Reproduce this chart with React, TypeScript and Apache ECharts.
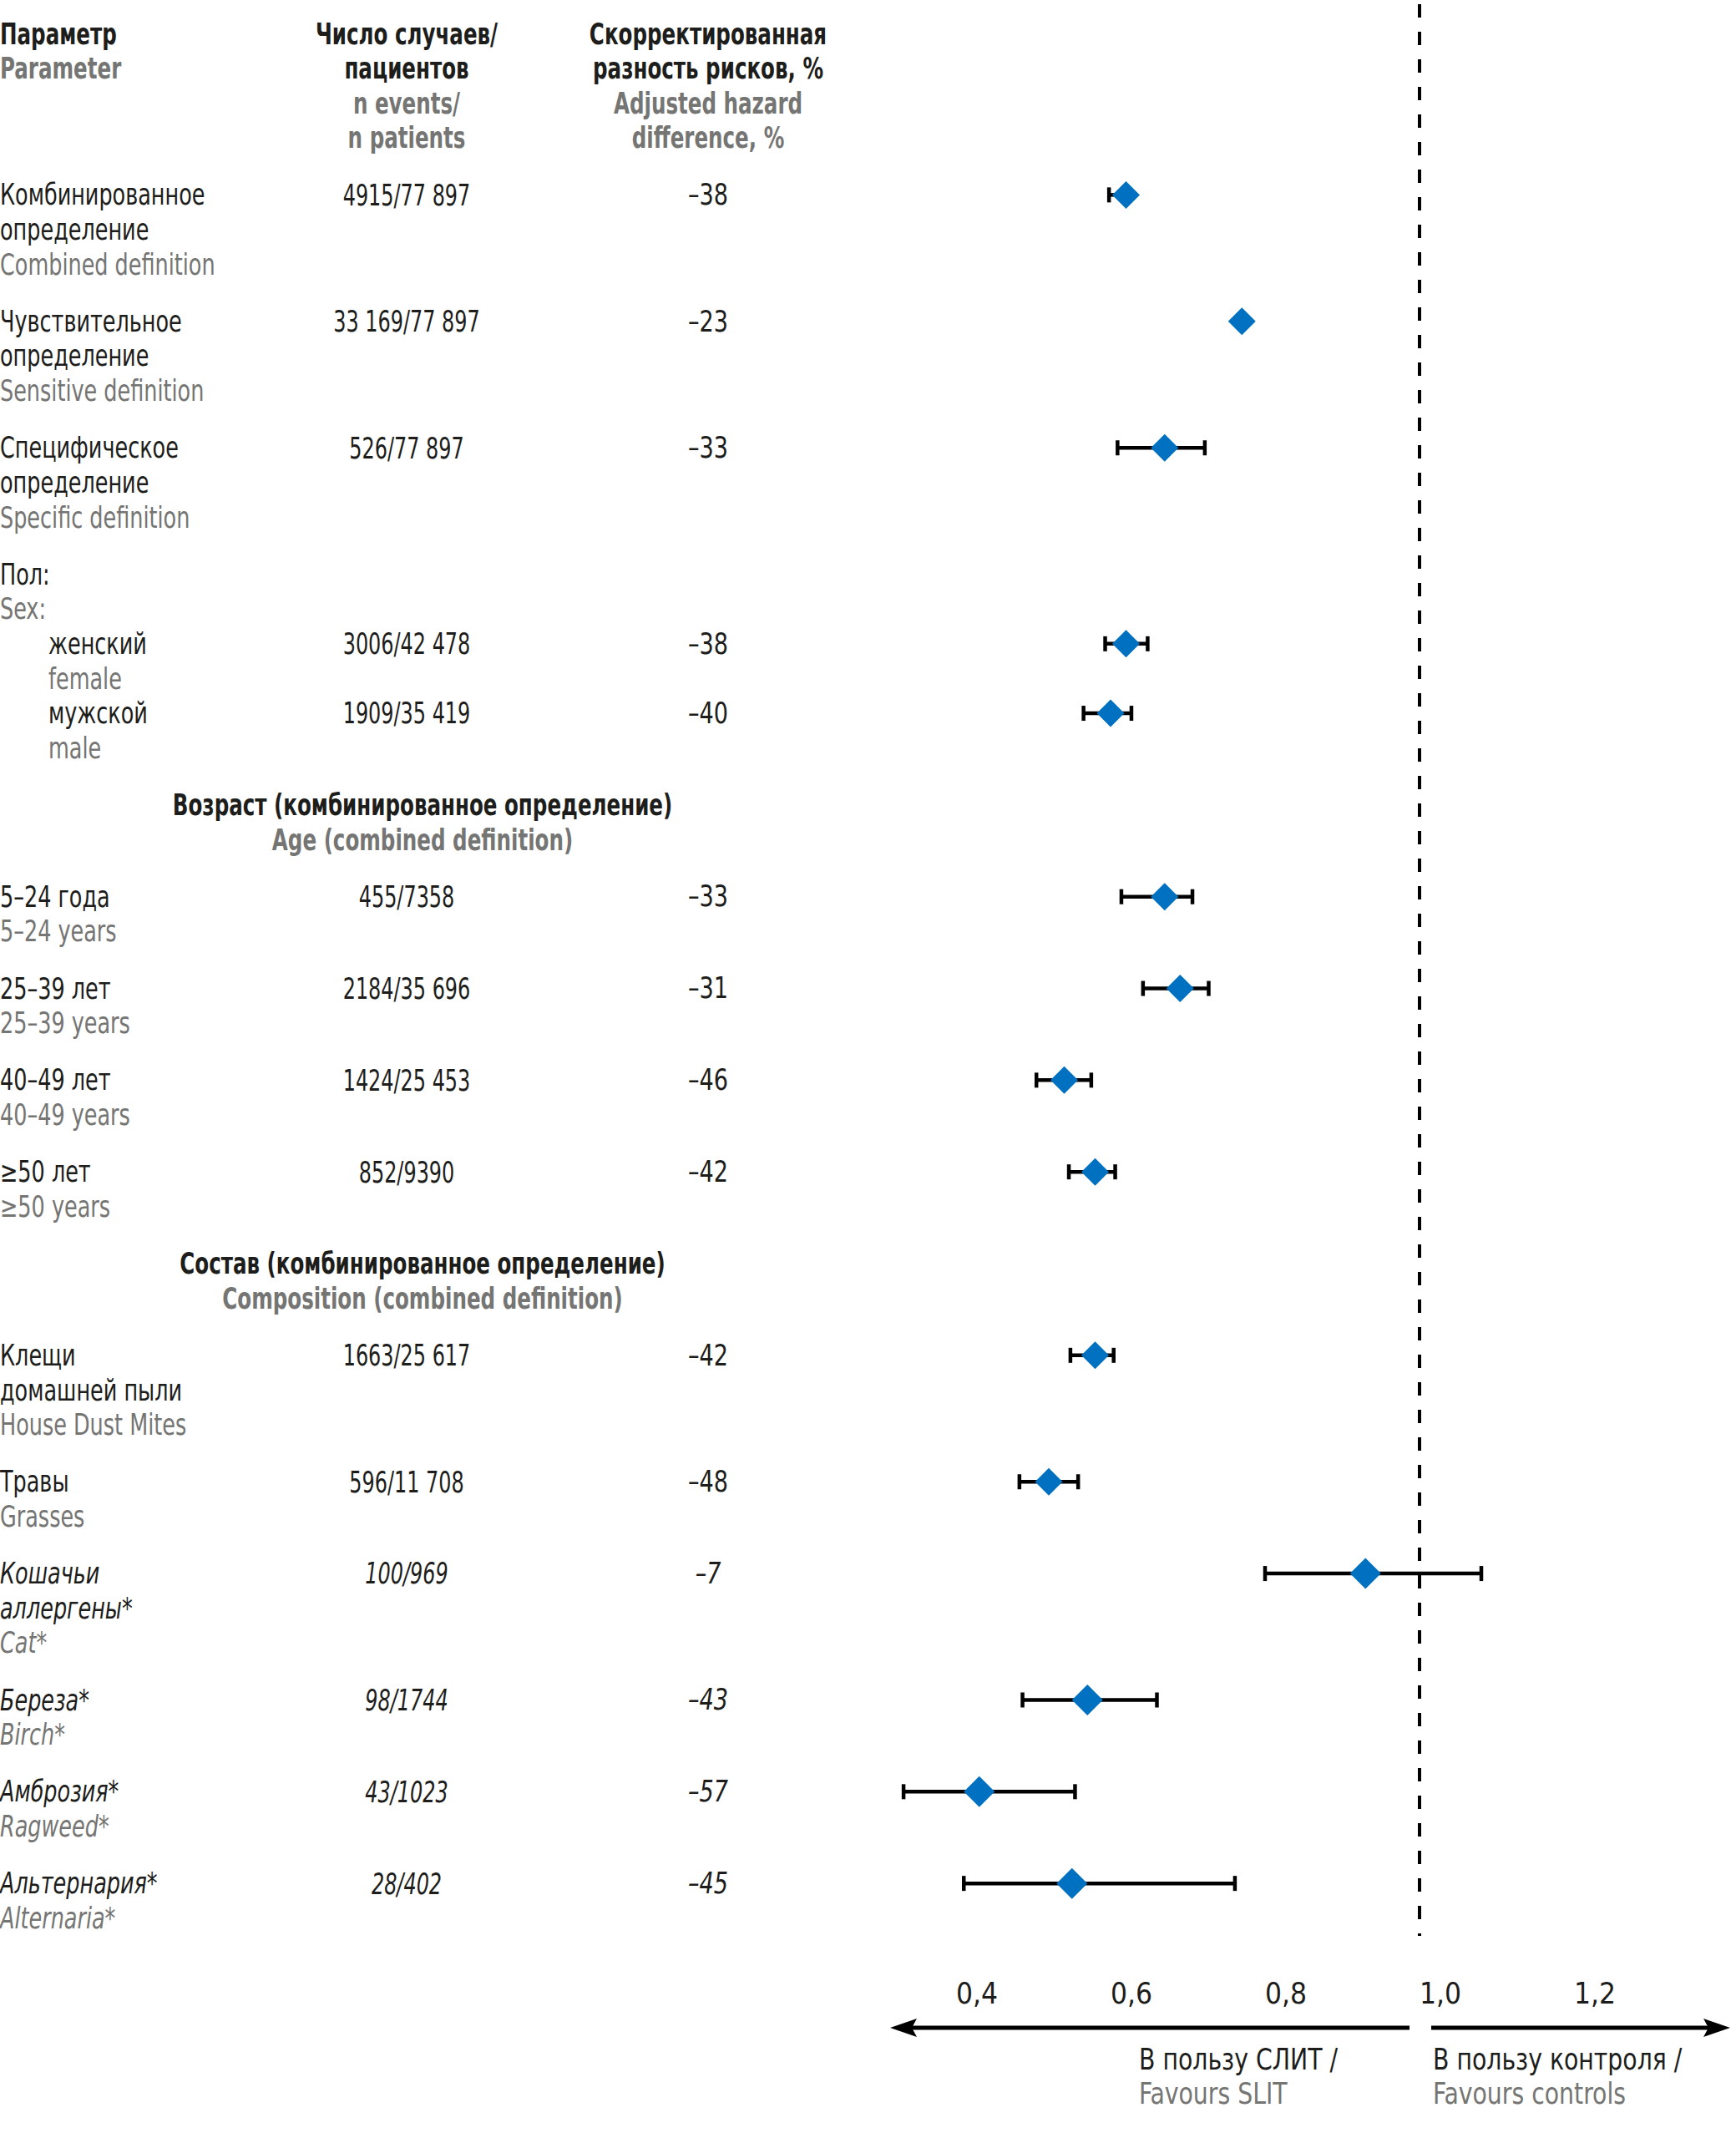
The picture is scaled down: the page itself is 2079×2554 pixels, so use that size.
import React, { useEffect, useRef } from "react";
import * as echarts from "echarts";

// ---------- DATA ----------
const headerRu = ["Параметр", "Число случаев/\nпациентов", "Скорректированная\nразность рисков, %"];
const headerEn = ["Parameter", "n events/\nn patients", "Adjusted hazard\ndifference, %"];

const categoriesRu = [
  "Комбинированное\nопределение",
  "Чувствительное\nопределение",
  "Специфическое\nопределение",
  "женский",
  "мужской",
  "5–24 года",
  "25–39 лет",
  "40–49 лет",
  "≥50 лет",
  "Клещи\nдомашней пыли",
  "Травы",
  "Кошачьи\nаллергены*",
  "Береза*",
  "Амброзия*",
  "Альтернария*",
];
const categoriesEn = [
  "Combined definition",
  "Sensitive definition",
  "Specific definition",
  "female",
  "male",
  "5–24 years",
  "25–39 years",
  "40–49 years",
  "≥50 years",
  "House Dust Mites",
  "Grasses",
  "Cat*",
  "Birch*",
  "Ragweed*",
  "Alternaria*",
];
const eventsPatients = [
  "4915/77 897", "33 169/77 897", "526/77 897", "3006/42 478", "1909/35 419",
  "455/7358", "2184/35 696", "1424/25 453", "852/9390", "1663/25 617",
  "596/11 708", "100/969", "98/1744", "43/1023", "28/402",
];
const hazardDifference = [
  "–38", "–23", "–33", "–38", "–40", "–33", "–31", "–46", "–42", "–42", "–48", "–7", "–43", "–57", "–45",
];
const hazardRatio = [0.62, 0.77, 0.67, 0.62, 0.60, 0.67, 0.69, 0.54, 0.58, 0.58, 0.52, 0.93, 0.57, 0.43, 0.55];
const ciLower = [0.598, 0.765, 0.609, 0.593, 0.565, 0.614, 0.642, 0.504, 0.546, 0.548, 0.482, 0.80, 0.486, 0.332, 0.41];
const ciUpper = [0.625, 0.775, 0.722, 0.648, 0.627, 0.706, 0.727, 0.575, 0.606, 0.604, 0.558, 1.08, 0.66, 0.554, 0.761];
const italicRows = [false, false, false, false, false, false, false, false, false, false, false, true, true, true, true];
const subgroupRows = [3, 4];
const sectionTitles = [
  { beforeRow: 3, ru: "Пол:", en: "Sex:", centered: false },
  { beforeRow: 5, ru: "Возраст (комбинированное определение)", en: "Age (combined definition)", centered: true },
  { beforeRow: 9, ru: "Состав (комбинированное определение)", en: "Composition (combined definition)", centered: true },
];
const xTicks = [0.4, 0.6, 0.8, 1.0, 1.2];
const favours = { left: ["В пользу СЛИТ /", "Favours SLIT"], right: ["В пользу контроля /", "Favours controls"] };

// ---------- STYLE / LAYOUT ----------
const FONT = "'Liberation Sans Narrow', 'DejaVu Sans Condensed', 'Arial Narrow', sans-serif";
const FS = 35;
const BLACK = "#1d1d1b";
const GRAY = "#757574";
const BLUE = "#0070c0";
const LINE_PX = 41.6;
const GAP = 0.64;
const Y_MIN = -0.85;
const Y_MAX = 54.75;
const TOP = 5;
const COL1 = 0;
const COL1_INDENT = 58;
const COL2 = 487;
const COL3 = 848;
const SECTION_CENTER = 506;
const SCALE_TEXT = 0.81;
const SCALE_BOLD = 0.78;
const SCALE_EVENTS = 0.76;
const SCALE_DIFF = 0.86;

type TLine = { x: number; y: number; text: string; bold: boolean; gray: boolean; italic: boolean; align: string; sx: number };

function buildLayout() {
  const lines: TLine[] = [];
  const push = (x: number, y: number, text: string, bold: boolean, gray: boolean, italic: boolean, align: string, sx?: number) =>
    lines.push({ x, y, text, bold, gray, italic, align, sx: sx ?? (bold ? SCALE_BOLD : SCALE_TEXT) });
  const hx = [COL1, COL2, COL3];
  const ha = ["left", "center", "center"];
  let headerLines = 0;
  headerRu.forEach((t, c) => {
    const ru = t.split("\n");
    const en = headerEn[c].split("\n");
    ru.forEach((s, k) => push(hx[c], k, s, true, false, false, ha[c]));
    en.forEach((s, k) => push(hx[c], ru.length + k, s, true, true, false, ha[c]));
    headerLines = Math.max(headerLines, ru.length + en.length);
  });
  let cursor = headerLines + GAP;
  const rowY: number[] = [];
  categoriesRu.forEach((ruText, i) => {
    const sec = sectionTitles.find((s) => s.beforeRow === i);
    if (sec) {
      const sx = sec.centered ? SECTION_CENTER : COL1;
      const sa = sec.centered ? "center" : "left";
      push(sx, cursor, sec.ru, sec.centered, false, false, sa);
      push(sx, cursor + 1, sec.en, sec.centered, true, false, sa);
      cursor += 2 + (sec.centered ? GAP : 0);
    }
    const it = italicRows[i];
    const x1 = subgroupRows.includes(i) ? COL1_INDENT : COL1;
    rowY.push(cursor);
    const ru = ruText.split("\n");
    ru.forEach((s, k) => push(x1, cursor + k, s, false, false, it, "left"));
    push(x1, cursor + ru.length, categoriesEn[i], false, true, it, "left");
    push(COL2, cursor, eventsPatients[i], false, false, it, "center", SCALE_EVENTS);
    push(COL3, cursor, hazardDifference[i], false, false, it, "center", SCALE_DIFF);
    cursor += ru.length + 1;
    if (!(subgroupRows.includes(i) && subgroupRows.includes(i + 1))) cursor += GAP;
  });
  return { lines, rowY };
}

export default function App() {
  const ref = useRef<HTMLDivElement>(null);
  useEffect(() => {
    document.body.style.margin = "0";
    if (!ref.current) return;
    const chart = echarts.init(ref.current, undefined, { renderer: "svg" });
    const { lines, rowY } = buildLayout();
    const gridHeight = (Y_MAX - Y_MIN) * LINE_PX;
    const yAxisBase = { type: "value", min: Y_MIN, max: Y_MAX, inverse: true, show: false };

    const arrowY = 2428;
    const arrowStyle = { stroke: "#000", lineWidth: 5 };
    const textBase = (text: string, x: number, y: number, gray: boolean) => ({
      type: "text",
      x,
      y,
      scaleX: 0.9,
      style: {
        text,
        fill: gray ? GRAY : BLACK,
        fontSize: FS,
        fontFamily: FONT,
        align: "left",
        verticalAlign: "middle",
      },
    });

    chart.setOption({
      animation: false,
      backgroundColor: "#fff",
      grid: [
        { left: 960, width: 1110, top: TOP, height: gridHeight },
        { left: 0, width: 1000, top: TOP, height: gridHeight },
      ],
      xAxis: [
        {
          type: "value",
          gridIndex: 0,
          min: 0.2,
          max: 1.4,
          interval: 0.2,
          axisLine: { show: false },
          axisTick: { show: false },
          splitLine: { show: false },
          axisLabel: {
            margin: 52,
            fontSize: FS,
            fontFamily: FONT,
            color: BLACK,
            padding: [0, 0, 0, 50],
            formatter: (v: number) =>
              xTicks.some((t) => Math.abs(t - v) < 1e-6) ? v.toFixed(1).replace(".", ",") : "",
          },
        },
        { type: "value", gridIndex: 1, min: 0, max: 1000, show: false },
      ],
      yAxis: [
        { ...yAxisBase, gridIndex: 0 },
        { ...yAxisBase, gridIndex: 1 },
      ],
      series: [
        {
          type: "custom",
          name: "ci",
          xAxisIndex: 0,
          yAxisIndex: 0,
          z: 2,
          silent: true,
          data: rowY.map((y, i) => [ciLower[i], ciUpper[i], y]),
          encode: { x: [0, 1], y: 2 },
          renderItem: (params: any, api: any) => {
            const a = api.coord([api.value(0), api.value(2)]);
            const b = api.coord([api.value(1), api.value(2)]);
            const st = { stroke: "#000", lineWidth: 4.5 };
            const cap = 9;
            return {
              type: "group",
              children: [
                { type: "line", shape: { x1: a[0], y1: a[1], x2: b[0], y2: b[1] }, style: st },
                { type: "line", shape: { x1: a[0], y1: a[1] - cap, x2: a[0], y2: a[1] + cap }, style: st },
                { type: "line", shape: { x1: b[0], y1: b[1] - cap, x2: b[0], y2: b[1] + cap }, style: st },
              ],
            };
          },
        },
        {
          type: "scatter",
          name: "hr",
          xAxisIndex: 0,
          yAxisIndex: 0,
          z: 3,
          symbol: "diamond",
          symbolSize: (_v: any, p: any) => (italicRows[p.dataIndex] ? 37 : 33),
          itemStyle: { color: BLUE, opacity: 1 },
          data: rowY.map((y, i) => [hazardRatio[i], y]),
          markLine: {
            silent: true,
            symbol: "none",
            label: { show: false },
            lineStyle: { color: "#000", width: 4, type: [16, 17] },
            data: [{ xAxis: 1 }],
          },
        },
        {
          type: "custom",
          name: "table",
          xAxisIndex: 1,
          yAxisIndex: 1,
          silent: true,
          data: lines.map((l) => [l.x, l.y]),
          renderItem: (params: any, api: any) => {
            const l = lines[params.dataIndex];
            const p = api.coord([api.value(0), api.value(1)]);
            return {
              type: "text",
              x: p[0],
              y: p[1],
              scaleX: l.sx,
              style: {
                text: l.text,
                fill: l.gray ? GRAY : BLACK,
                fontSize: FS,
                fontFamily: FONT,
                fontWeight: l.bold ? "bold" : "normal",
                fontStyle: l.italic ? "italic" : "normal",
                align: l.align,
                verticalAlign: "middle",
              },
            };
          },
        },
      ],
      graphic: [
        { type: "line", shape: { x1: 1092, y1: arrowY, x2: 1688, y2: arrowY }, style: arrowStyle },
        {
          type: "polygon",
          shape: { points: [[1066, arrowY], [1098, arrowY - 11], [1092, arrowY], [1098, arrowY + 11]] },
          style: { fill: "#000" },
        },
        { type: "line", shape: { x1: 1714, y1: arrowY, x2: 2046, y2: arrowY }, style: arrowStyle },
        {
          type: "polygon",
          shape: { points: [[2072, arrowY], [2040, arrowY - 11], [2046, arrowY], [2040, arrowY + 11]] },
          style: { fill: "#000" },
        },
        textBase(favours.left[0], 1364, 2466, false),
        textBase(favours.left[1], 1364, 2507, true),
        textBase(favours.right[0], 1716, 2466, false),
        textBase(favours.right[1], 1716, 2507, true),
      ],
    });
    return () => chart.dispose();
  }, []);
  return <div ref={ref} style={{ width: 2079, height: 2554 }} />;
}
